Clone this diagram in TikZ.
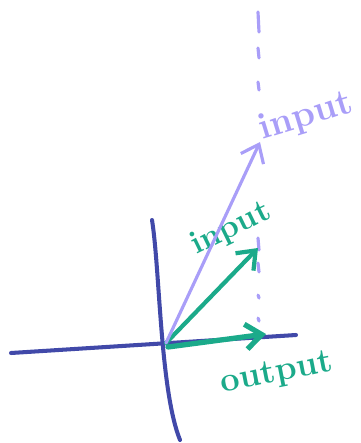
\documentclass[tikz,border=0pt]{standalone}
\usepackage{tikz}
\usetikzlibrary{arrows.meta}

\definecolor{axisblue}{HTML}{4149A9}
\definecolor{inlilac}{HTML}{A99EF8}
\definecolor{outgreen}{HTML}{1BAA8A}

\begin{document}
\begin{tikzpicture}[x=0.02cm,y=-0.02cm,line cap=round,
    axisline/.style={axisblue,line width=2.3pt},
    barb/.style={-{Straight Barb[length=3.2mm,width=5mm]}},
    handlabel/.style={inner sep=0pt,font=\fontsize{#1}{#1}\selectfont\bfseries}]
  \useasboundingbox (0,0) rectangle (360,443);
  \coordinate (O) at (166,343);
  \coordinate (xl) at (11,353);
  \coordinate (xr) at (296,335);
  \coordinate (yt) at (152,220);
  \coordinate (yb) at (180,440);
  \coordinate (inbig) at (260,142);
  \coordinate (insmall) at (258,248);
  \coordinate (outtip) at (266,334);
  % axes
  \draw[axisline] (xl) -- (xr);
  \draw[axisline] (yt) .. controls (160,270) and (160,390) .. (yb);
  % dashed guide
  \foreach \ya/\yb in {12/32, 48/58, 82/90, 238/250, 263/272, 295/298, 318/321}
    \draw[inlilac,line width=1.8pt] (258,\ya) -- (259,\yb);
  % labels
  \node[handlabel=18.5pt,outgreen,rotate=26] (lin) at (231,229) {input};
  \node[handlabel=21pt,inlilac,rotate=17] (lbig) at (306,117) {input};
  \node[handlabel=19.5pt,outgreen,rotate=11] (lout) at (277,374) {output};
  % vectors
  \draw[barb,outgreen,line width=2.4pt] (O) -- (insmall);
  \draw[barb,outgreen,line width=3pt] (168,347) -- (outtip);
  \draw[barb,inlilac,line width=1.8pt] (O) -- (inbig);
\end{tikzpicture}
\end{document}
